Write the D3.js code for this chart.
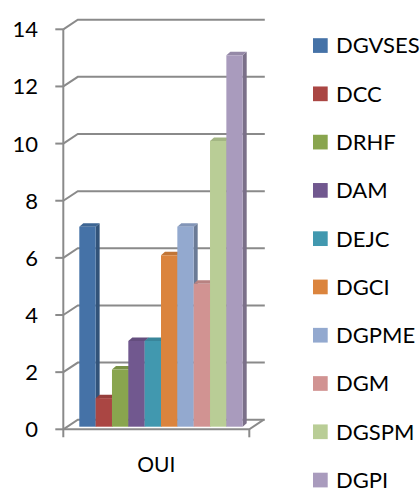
<!DOCTYPE html>
<html>
<head>
<meta charset="utf-8">
<script src="https://cdn.jsdelivr.net/npm/d3@7"></script>
<style>
  html, body { margin: 0; padding: 0; background: #ffffff; }
  svg { display: block; }
  text { font-family: Lato, "Liberation Sans", sans-serif; fill: #000; }
</style>
</head>
<body>
<svg id="chart" width="420" height="490"></svg>
<script>
// Responses per direction for the single category "OUI"
const categories = ["OUI"];
const seriesNames = ["DGVSES", "DCC", "DRHF", "DAM", "DEJC", "DGCI", "DGPME", "DGM", "DGSPM", "DGPI"];
const seriesValues = [7, 1, 2, 3, 3, 6, 7, 5, 10, 13];
const seriesColors = ["#4572A7", "#AA4643", "#89A54E", "#71588F", "#4198AF",
                      "#DB843D", "#93A9CF", "#D19392", "#B9CD96", "#A99BBD"];
const yTicks = [0, 2, 4, 6, 8, 10, 12, 14];

const svg = d3.select("#chart");

// Oblique 3D frame: front plane plus a receding depth offset
const frontLeft = 63.3, frontRight = 249.3;
const wallDx = 14.5, wallDy = -9.6;
const y = d3.scaleLinear().domain([0, 14]).range([429.3, 29.3]);

// Bars sit slightly behind the front plane
const barDepthShift = 2.6;
const barDx = 4, barDy = -3.5;
const x = d3.scaleBand().domain(seriesNames).range([79.3, 242.7]).padding(0);
const xCat = d3.scaleBand().domain(categories).range([frontLeft, frontRight]);

const gridColor = "#8a8a8a";
const grid = svg.append("g").attr("stroke", gridColor).attr("stroke-width", 2).attr("fill", "none");

// Back wall gridlines with their diagonal lead-ins from the value axis
yTicks.forEach(t => {
  const yf = y(t);
  grid.append("path")
    .attr("d", `M${frontLeft},${yf} L${frontLeft + wallDx},${yf + wallDy} L${frontRight + wallDx + 1},${yf + wallDy}`);
  grid.append("line")
    .attr("x1", frontLeft - 8).attr("x2", frontLeft)
    .attr("y1", yf).attr("y2", yf);
});

// Value axis
grid.append("line")
  .attr("x1", frontLeft).attr("x2", frontLeft)
  .attr("y1", y(14)).attr("y2", y(0) + 8);

// Floor front edge, right edge and category tick
grid.append("path")
  .attr("d", `M${frontLeft},${y(0)} L${frontRight},${y(0)} L${frontRight + wallDx},${y(0) + wallDy}`);
grid.append("line")
  .attr("x1", frontRight).attr("x2", frontRight)
  .attr("y1", y(0)).attr("y2", y(0) + 8);

// Value axis labels
svg.append("g").selectAll("text").data(yTicks).join("text")
  .attr("x", 38).attr("y", d => y(d))
  .attr("dy", "0.36em")
  .attr("text-anchor", "end")
  .attr("font-size", 22)
  .text(d => d);

// Category label
svg.append("text")
  .attr("x", xCat("OUI") + xCat.bandwidth() / 2)
  .attr("y", 471.5)
  .attr("text-anchor", "middle")
  .attr("font-size", 21)
  .text(categories[0]);

// 3D columns, drawn left to right so each neighbour hides the previous side face
const bars = svg.append("g");
seriesNames.forEach((name, i) => {
  const v = seriesValues[i];
  const c = d3.color(seriesColors[i]);
  const x0 = x(name), x1 = x0 + x.bandwidth();
  const yb = y(0) - barDepthShift, yt = y(v) - barDepthShift;
  const g = bars.append("g");
  // side face
  g.append("path")
    .attr("d", `M${x1},${yb} L${x1 + barDx},${yb + barDy} L${x1 + barDx},${yt + barDy} L${x1},${yt} Z`)
    .attr("fill", c.darker(0.9));
  // top face
  g.append("path")
    .attr("d", `M${x0},${yt} L${x0 + barDx},${yt + barDy} L${x1 + barDx},${yt + barDy} L${x1},${yt} Z`)
    .attr("fill", c.darker(0.35));
  // front face
  g.append("rect")
    .attr("x", x0).attr("y", yt)
    .attr("width", x.bandwidth()).attr("height", yb - yt)
    .attr("fill", c);
});

// Legend
const legend = svg.append("g");
const legendY = d3.scalePoint().domain(seriesNames).range([45.5, 480]);
seriesNames.forEach((name, i) => {
  const cy = legendY(name);
  legend.append("rect")
    .attr("x", 313).attr("y", cy - 7.3)
    .attr("width", 14.7).attr("height", 14.7)
    .attr("fill", seriesColors[i]);
  legend.append("text")
    .attr("x", 336).attr("y", cy)
    .attr("dy", "0.36em")
    .attr("font-size", 22)
    .text(name);
});
</script>
</body>
</html>
